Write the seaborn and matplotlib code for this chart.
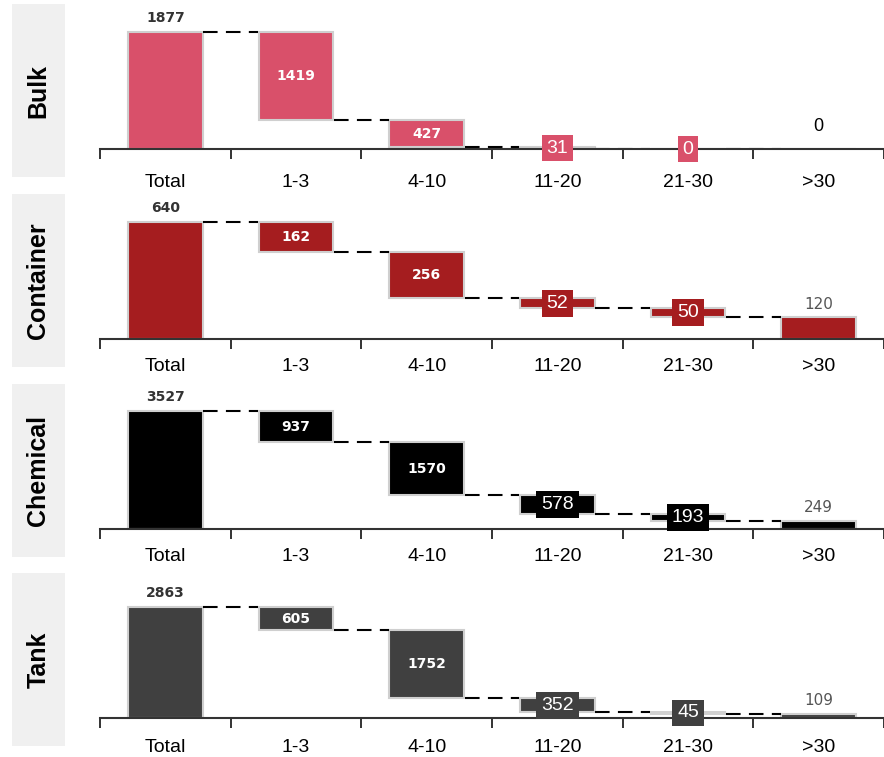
import numpy as np
import pandas as pd
import matplotlib.pyplot as plt
import seaborn as sns

# waterfall data: total, then the age buckets that add up to it
categories = ['Total', '1-3', '4-10', '11-20', '21-30', '>30']
groups = ['Bulk', 'Container', 'Chemical', 'Tank']
bulk = [1877, 1419, 427, 31, 0, 0]
container = [640, 162, 256, 52, 50, 120]
chemical = [3527, 937, 1570, 578, 193, 249]
tank = [2863, 605, 1752, 352, 45, 109]
series = [bulk, container, chemical, tank]
colors = ['#d9506a', '#a51d1f', '#000000', '#404040']

sns.set_style('white')
plt.rcParams['font.family'] = ['Liberation Sans', 'DejaVu Sans']
plt.rcParams['text.color'] = 'black'
plt.rcParams['xtick.color'] = 'black'

W, H = 884, 757
fig = plt.figure(figsize=(W / 100, H / 100), dpi=100)

baselines = [149, 339, 529, 718]   # pixel row of each x axis
total_px = [117, 117, 118, 111]    # pixel height of the Total bar
label_pad = [18, 14, 14, 15]
ax_px = 140

for k, (name, vals, col) in enumerate(zip(groups, series, colors)):
    base = baselines[k]
    ax = fig.add_axes([100 / W, 1 - base / H, (W - 100) / W, ax_px / H])

    df = pd.DataFrame({'bin': categories, 'n': vals})
    sns.barplot(data=df, x='bin', y='n', color=col, saturation=1,
                width=0.57, edgecolor='#cfcfcf', linewidth=1.5,
                errorbar=None, ax=ax)

    total = vals[0]
    levels = total - np.cumsum([0] + vals[1:])
    # shift the bucket bars so they float like a waterfall
    for i, p in enumerate(ax.patches):
        if i > 0:
            p.set_y(levels[i])

    # dashed connectors
    for i in range(len(vals) - 1):
        ax.plot([i + 0.29, i + 1 - 0.29], [levels[i], levels[i]],
                color='black', lw=1.5, ls=(0, (7, 4)), zorder=1)

    # labels
    for i, v in enumerate(vals):
        if i == 0:
            bot, top = 0, total
        else:
            bot, top = levels[i], levels[i - 1]
        mid = (bot + top) / 2
        if i == 0:
            ax.annotate(str(v), (i, top), xytext=(0, 5), textcoords='offset points',
                        ha='center', va='bottom', fontsize=10, fontweight='bold',
                        color='#333333', family='DejaVu Sans')
        elif i in (1, 2):
            ax.text(i, mid, str(v), ha='center', va='center', fontsize=10,
                    fontweight='bold', color='white', family='DejaVu Sans')
        elif i in (3, 4):
            ax.text(i, mid, str(v), ha='center', va='center', fontsize=14,
                    color='white', zorder=5,
                    bbox=dict(boxstyle='square,pad=0.25', fc=col, ec='none'))
        elif v == 0:
            ax.annotate(str(v), (i, top), xytext=(0, 10), textcoords='offset points',
                        ha='center', va='bottom', fontsize=13, color='black')
        else:
            ax.annotate(str(v), (i, top), xytext=(0, 4), textcoords='offset points',
                        ha='center', va='bottom', fontsize=11,
                        color='#555555', family='DejaVu Sans')

    ax.set_ylim(0, total * ax_px / total_px[k])
    ax.set_xlim(-0.5, -0.5 + (W - 100) / 133)
    ax.set_xlabel('')
    ax.set_ylabel('')
    ax.set_yticks([])
    ax.set_xticks(np.arange(-0.5, 6, 1), labels=[])
    ax.set_xticks(range(len(categories)), labels=categories, minor=True)
    ax.tick_params(axis='x', which='major', bottom=True, length=7, width=1.4,
                   color='#333333', direction='out')
    ax.tick_params(axis='x', which='minor', bottom=True, length=0,
                   pad=label_pad[k], labelsize=14, labelcolor='black')
    for s in ['top', 'right', 'left']:
        ax.spines[s].set_visible(False)
    ax.spines['bottom'].set_color('#333333')
    ax.spines['bottom'].set_linewidth(1.5)
    ax.patch.set_alpha(0)

    # grey side label
    lab = fig.add_axes([12 / W, 1 - (base + 28) / H, 53 / W, 173 / H])
    lab.set_facecolor('#f0f0f0')
    lab.set_xticks([])
    lab.set_yticks([])
    for s in lab.spines.values():
        s.set_visible(False)
    lab.text(0.5, 0.5, name, rotation=90, ha='center', va='center',
             fontsize=18, fontweight='bold', color='black',
             transform=lab.transAxes)

fig.savefig('out.png', dpi=100)
